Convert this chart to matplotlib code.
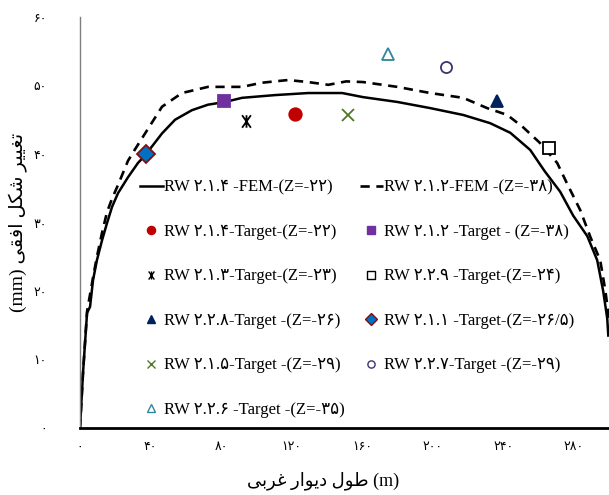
import numpy as np
import matplotlib
matplotlib.use('Agg')
from matplotlib import pyplot as plt
from matplotlib.path import Path
from matplotlib.lines import Line2D


# FEM section RW 2.1.4 (Z=-22) : wall length (m) vs horizontal deformation (mm)
fem214_x = [0, 1.7, 4.0, 5.7, 7.4, 9.6, 12.5, 15.3, 18.2, 21.6, 27.2, 32.9, 36.9,
            46.5, 53.9, 63.5, 72.6, 82.3, 91.9, 110.6, 129.4, 148.7, 160.6, 179.9,
            198.6, 217.3, 232.6, 244.0, 255.3, 263.5, 272.3, 279.7, 287.7, 293.3,
            296.7, 299.0, 299.6]
fem214_y = [0, 8.0, 16.8, 17.7, 21.6, 24.5, 27.4, 29.9, 32.3, 34.3, 36.6, 38.7, 39.8,
            43.0, 45.0, 46.4, 47.2, 47.6, 48.2, 48.6, 48.9, 48.9, 48.3, 47.6,
            46.7, 45.7, 44.5, 43.1, 40.6, 37.5, 34.5, 31.0, 28.0, 24.5,
            20.0, 16.0, 13.5]

# FEM section RW 2.1.2 (Z=-38)
fem212_x = [0, 1.7, 4.0, 7.4, 9.6, 12.5, 15.3, 18.2, 21.6, 27.2, 31.0, 36.9, 46.5,
            57.8, 72.6, 92.0, 103.0, 118.0, 129.4, 140.8, 151.0, 160.6, 179.9,
            198.6, 217.3, 230.9, 242.3, 251.3, 260.9, 270.6, 276.0, 283.7, 289.4,
            295.0, 297.9, 300.0]
fem212_y = [0, 8.0, 17.0, 22.0, 25.0, 28.5, 31.5, 33.5, 35.5, 39.0, 40.6, 43.0, 46.9,
            48.9, 49.8, 49.8, 50.4, 50.8, 50.5, 50.1, 50.6, 50.5, 49.8,
            48.9, 48.2, 46.7, 45.7, 43.9, 41.6, 38.7, 35.8, 31.8, 27.9,
            24.5, 20.1, 16.0]

# measured target points
target_x = [122.0, 81.7, 94.2, 266.0, 236.6, 37.4, 152.0, 207.7, 174.8]
target_y = [45.8, 47.7, 44.8, 40.9, 47.7, 40.0, 45.7, 52.7, 54.6]
target_labels = [
    'RW ۲.۱.۴-Target-(Z=-۲۲)',
    'RW ۲.۱.۲ -Target - (Z=-۳۸)',
    'RW ۲.۱.۳-Target-(Z=-۲۳)',
    'RW ۲.۲.۹ -Target-(Z=-۲۴)',
    'RW ۲.۲.۸-Target -(Z=-۲۶)',
    'RW ۲.۱.۱ -Target-(Z=-۲۶/۵)',
    'RW ۲.۱.۵-Target -(Z=-۲۹)',
    'RW ۲.۲.۷-Target -(Z=-۲۹)',
    'RW ۲.۲.۶ -Target -(Z=-۳۵)',
]
fem_labels = ['RW ۲.۱.۴ -FEM-(Z=-۲۲)', 'RW ۲.۱.۲-FEM -(Z=-۳۸)']

x_ticks = [0, 40, 80, 120, 160, 200, 240, 280]
y_ticks = [0, 10, 20, 30, 40, 50, 60]


# star marker: X with a vertical bar through it
star = Path([(-0.7, -1), (0.7, 1), (-0.7, 1), (0.7, -1), (0, -1), (0, 1)],
            [Path.MOVETO, Path.LINETO, Path.MOVETO, Path.LINETO, Path.MOVETO, Path.LINETO])

# marker, size, face, edge
target_styles = [
    ('o', 9, '#c00000', '#c00000'),
    ('s', 8.5, '#7030a0', '#7030a0'),
    (star, 9, 'none', 'black'),
    ('s', 8, 'white', 'black'),
    ('^', 9, '#002060', '#002060'),
    ('D', 9, '#0070c0', '#7f1010'),
    ('x', 8.5, '#4e7a27', '#4e7a27'),
    ('o', 8, 'white', '#3b3470'),
    ('^', 8.5, 'white', '#31859c'),
]


# Persian letters: isolated, final, initial, medial presentation forms
FORMS = {
    'ا': ('\uFE8D', '\uFE8E', None, None),
    'ب': ('\uFE8F', '\uFE90', '\uFE91', '\uFE92'),
    'ت': ('\uFE95', '\uFE96', '\uFE97', '\uFE98'),
    'د': ('\uFEA9', '\uFEAA', None, None),
    'ر': ('\uFEAD', '\uFEAE', None, None),
    'ش': ('\uFEB5', '\uFEB6', '\uFEB7', '\uFEB8'),
    'ط': ('\uFEC1', '\uFEC2', '\uFEC3', '\uFEC4'),
    'غ': ('\uFECD', '\uFECE', '\uFECF', '\uFED0'),
    'ف': ('\uFED1', '\uFED2', '\uFED3', '\uFED4'),
    'ق': ('\uFED5', '\uFED6', '\uFED7', '\uFED8'),
    'ل': ('\uFEDD', '\uFEDE', '\uFEDF', '\uFEE0'),
    'و': ('\uFEED', '\uFEEE', None, None),
    'ک': ('\uFB8E', '\uFB8F', '\uFB90', '\uFB91'),
    'ی': ('\uFBFC', '\uFBFD', '\uFBFE', '\uFBFF'),
}


def shape_fa(text):
    """Join Persian letters and put them in visual (right-to-left) order."""
    out = []
    for i, ch in enumerate(text):
        if ch not in FORMS:
            out.append(ch)
            continue
        prev = text[i - 1] if i > 0 else ''
        nxt = text[i + 1] if i + 1 < len(text) else ''
        iso, fin, ini, med = FORMS[ch]
        joins_prev = prev in FORMS and FORMS[prev][2] is not None
        joins_next = ini is not None and nxt in FORMS
        if joins_prev and joins_next:
            out.append(med)
        elif joins_prev:
            out.append(fin)
        elif joins_next:
            out.append(ini)
        else:
            out.append(iso)
    return ''.join(reversed(out))


def fa_num(v):
    return str(v).translate(str.maketrans('0123456789', '۰۱۲۳۴۵۶۷۸۹'))


FONT = ['Liberation Serif', 'DejaVu Sans']
plt.rcParams['font.family'] = FONT

fig = plt.figure(figsize=(6.09, 4.95), dpi=100)
ax = fig.add_axes([80 / 609, 67 / 495, 529 / 609, 411 / 495])

ax.plot(fem214_x, fem214_y, color='black', lw=1.8, solid_joinstyle='miter')
ax.plot(fem212_x, fem212_y, color='black', lw=1.9, dashes=(3.5, 2.5))

for x, y, (m, ms, fc, ec) in zip(target_x, target_y, target_styles):
    ax.plot([x], [y], ls='none', marker=m, ms=ms, mfc=fc, mec=ec, mew=1.3)

ax.set_xlim(0, 300)
ax.set_ylim(0, 60)
ax.set_xticks(x_ticks)
ax.set_xticklabels([fa_num(v) for v in x_ticks], fontsize=9, family=['DejaVu Sans'])
ax.set_yticks(y_ticks)
ax.set_yticklabels([fa_num(v) for v in y_ticks], fontsize=9, family=['DejaVu Sans'])
ax.tick_params(axis='x', length=0, pad=9)
ax.tick_params(axis='y', length=0, pad=24)

for side in ('top', 'right'):
    ax.spines[side].set_visible(False)
ax.spines['left'].set_color('#7f7f7f')
ax.spines['left'].set_linewidth(1.0)
ax.spines['bottom'].set_linewidth(2.0)

ax.set_ylabel('(mm) ' + shape_fa('تغییر شکل افقی'), fontsize=14)
ax.yaxis.set_label_coords(-52 / 529, 0.5)
fig.text(323 / 609, 1 - 481 / 495, shape_fa('طول دیوار غربی') + ' (m)',
         fontsize=13, ha='center', va='center')

# legend: column-major order for two columns
line_handles = [
    Line2D([], [], color='black', lw=1.8),
    Line2D([], [], color='black', lw=1.9, dashes=(3.5, 2.5)),
]
mark_handles = [Line2D([], [], ls='none', marker=m, ms=ms, mfc=fc, mec=ec, mew=1.0)
                for (m, ms, fc, ec) in target_styles]

col1 = [0, 2, 4, 6, 8]
col2 = [1, 3, 5, 7]
handles = [line_handles[0]] + [mark_handles[i] for i in col1] + \
          [line_handles[1]] + [mark_handles[i] for i in col2]
labels = [fem_labels[0]] + [target_labels[i] for i in col1] + \
         [fem_labels[1]] + [target_labels[i] for i in col2]

ax.legend(handles, labels, ncol=2, loc='upper left', bbox_to_anchor=(0.113, 0.605),
          frameon=False, fontsize=12, labelspacing=1.71, columnspacing=0.9,
          handlelength=1.4, handletextpad=0.05, markerscale=0.65, borderpad=0,
          borderaxespad=0)

fig.savefig('out.png', dpi=100)
